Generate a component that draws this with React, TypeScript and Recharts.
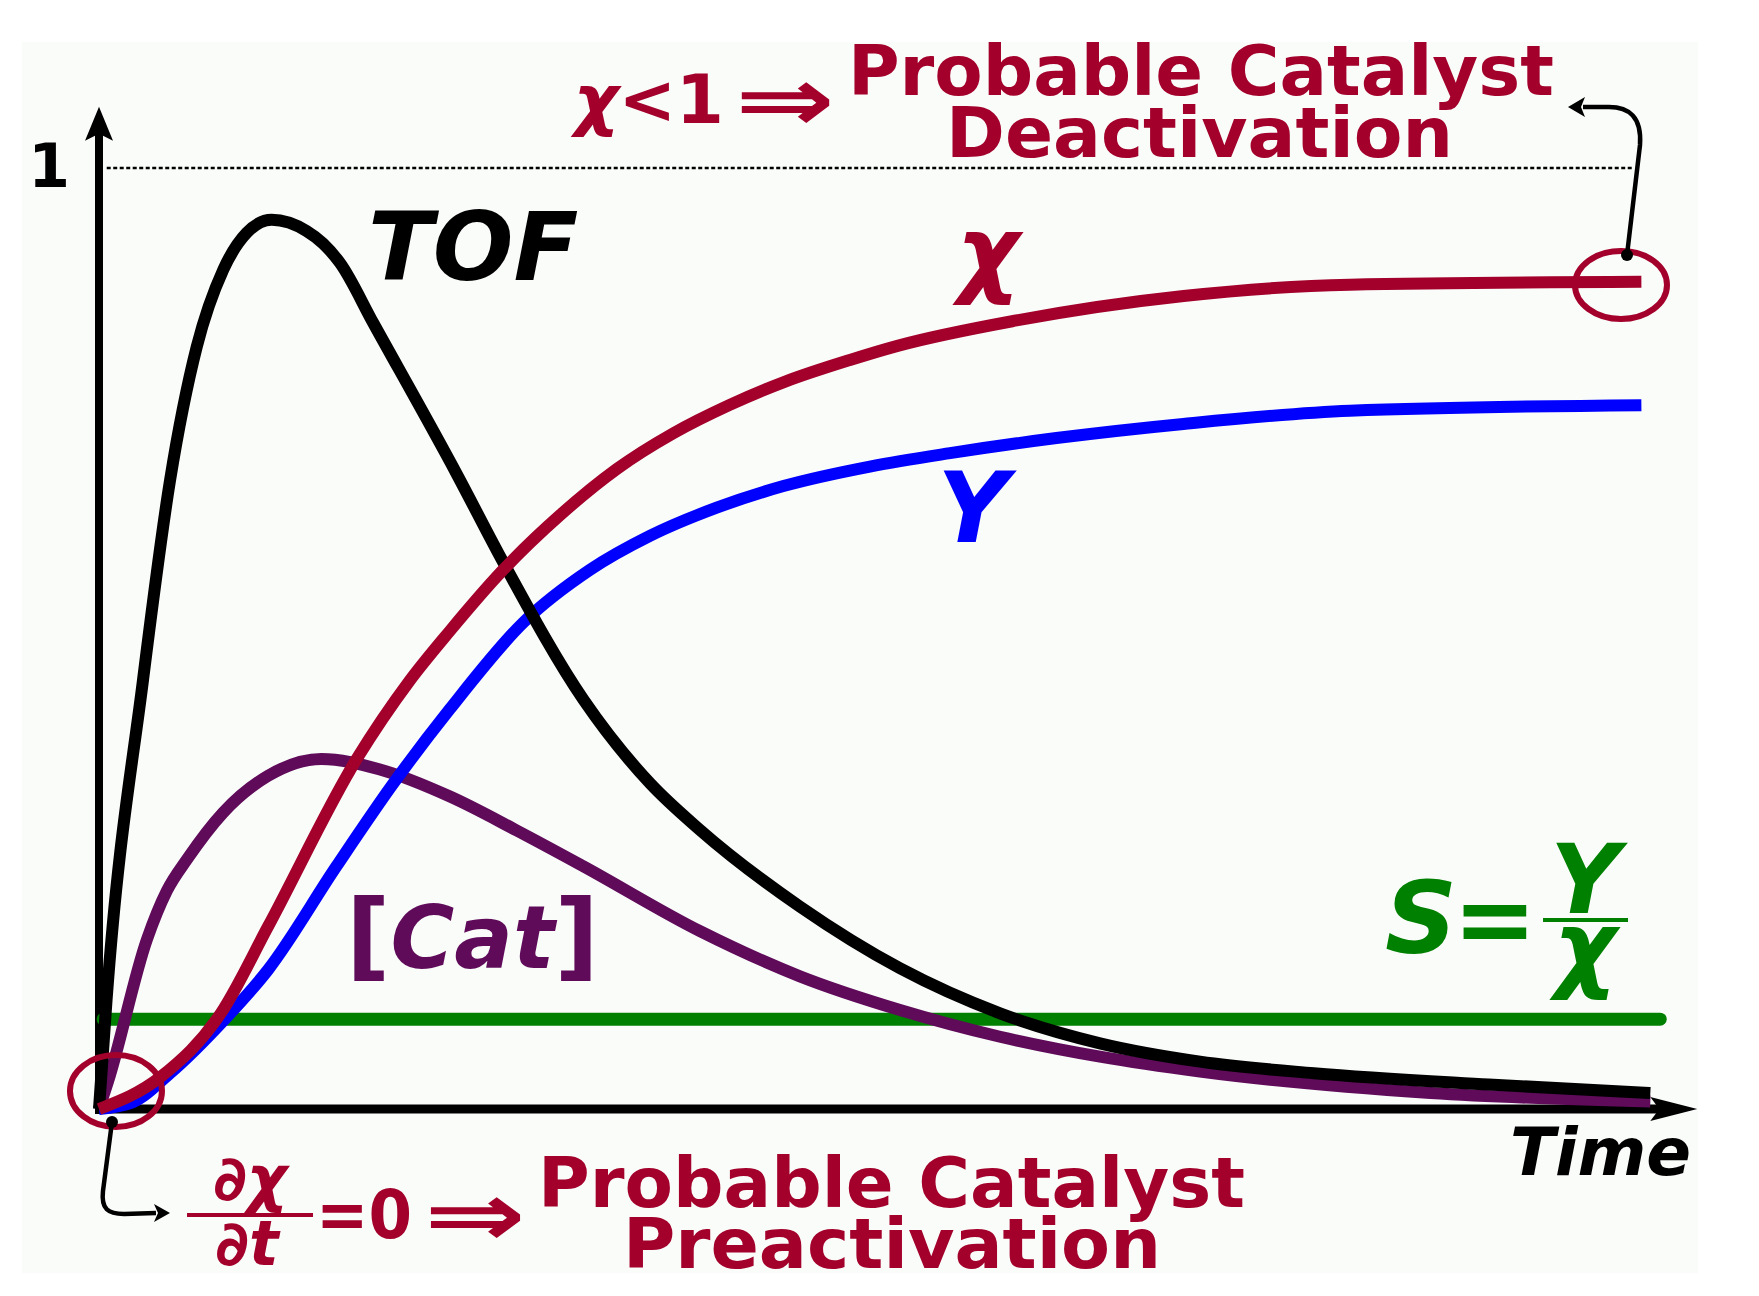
import React from "react";
import { LineChart, Line, XAxis, YAxis, ReferenceLine, ReferenceDot } from "recharts";

// time is scaled 0..100 along the axis, values 0..1 (the dotted "1" line)
const tofTime = [0, 0.49, 2.85, 4.6, 6.33, 8.05, 9.56, 11.18, 13.45, 14.5, 15.61, 17.77, 23.16, 26.21, 31.37, 35.69, 38.92, 45.39, 51.87, 58.35, 64.82, 71.3, 78.67, 90, 100.46];
const tofValue = [0, 0.116, 0.456, 0.668, 0.81, 0.892, 0.931, 0.945, 0.933, 0.92, 0.899, 0.835, 0.675, 0.58, 0.435, 0.346, 0.2965, 0.215, 0.1495, 0.1017, 0.0698, 0.0503, 0.038, 0.026, 0.017];

const chiTime = [0, 3.98, 7.9, 10.95, 16.69, 20.11, 22.72, 26.06, 29.92, 33.52, 37.18, 40.81, 44.44, 48.63, 51.71, 59.41, 70.24, 80.99, 99.88];
const chiValue = [0, 0.034, 0.102, 0.194, 0.372, 0.455, 0.508, 0.571, 0.632, 0.68, 0.718, 0.748, 0.773, 0.796, 0.811, 0.838, 0.864, 0.876, 0.879];

const yieldTime = [0, 2.16, 4.6, 8.12, 10.95, 15.38, 19.02, 22.72, 27.48, 31.8, 35.67, 40, 44.32, 50, 55.11, 62, 70.22, 81, 99.88];
const yieldValue = [0, 0.007, 0.038, 0.095, 0.148, 0.258, 0.345, 0.425, 0.517, 0.573, 0.609, 0.639, 0.662, 0.683, 0.697, 0.713, 0.728, 0.742, 0.748];

const catTime = [0, 0.6, 3.1, 4.4, 5.73, 8.04, 10.94, 14.4, 18.14, 22.73, 27.05, 31.36, 38.92, 45.39, 51.87, 58.35, 64.82, 71.3, 86.22, 100.46];
const catValue = [0, 0.03, 0.18, 0.232, 0.266, 0.315, 0.354, 0.372, 0.361, 0.332, 0.296, 0.258, 0.189, 0.141, 0.1052, 0.0768, 0.0556, 0.0397, 0.017, 0.008];

const selTime = [0.27, 101.1];
const selValue = [0.0955, 0.0955];

const toRows = (ts: number[], vs: number[]) => ts.map((t, i) => ({ t, v: vs[i] }));
const tofData = toRows(tofTime, tofValue);
const chiData = toRows(chiTime, chiValue);
const yieldData = toRows(yieldTime, yieldValue);
const catData = toRows(catTime, catValue);
const selData = toRows(selTime, selValue);

const RED = "#a3002b";
const BLUE = "#0000ff";
const PURPLE = "#5f0b5a";
const GREEN = "#008000";
const FONT = "'DejaVu Sans', Verdana, sans-serif";

// place any svg drawing at a data position
function note(key: string, t: number, v: number, draw: (x: number, y: number) => React.ReactElement) {
  return (
    <ReferenceDot
      key={key}
      x={t}
      y={v}
      r={0}
      ifOverflow="visible"
      shape={(p: any) => draw(p.cx, p.cy)}
    />
  );
}

const yArrow = (p: any) => (
  <g>
    <line x1={p.x1} y1={p.y1 + 5} x2={p.x2} y2={p.y2 + 22} stroke="#000" strokeWidth={8} />
    <path d={`M${p.x2},${p.y2} L${p.x2 - 14},${p.y2 + 34} L${p.x2},${p.y2 + 27} L${p.x2 + 14},${p.y2 + 34} Z`} fill="#000" />
  </g>
);

const xArrow = (p: any) => (
  <g>
    <line x1={p.x1} y1={p.y1} x2={p.x2 - 30} y2={p.y2} stroke="#000" strokeWidth={9} />
    <path d={`M${p.x2},${p.y2} L${p.x2 - 47},${p.y2 - 12} L${p.x2 - 38},${p.y2} L${p.x2 - 47},${p.y2 + 12} Z`} fill="#000" />
  </g>
);

const bold = { fontFamily: FONT, fontWeight: 700 } as const;

export default function App() {
  return (
    <div style={{ position: "absolute", left: 0, top: 0, width: 1759, height: 1296, background: "#fff" }}>
      <div style={{ position: "absolute", left: 22, top: 42, width: 1676, height: 1231, background: "#fafcfa" }} />
      <div style={{ position: "absolute", left: 0, top: 0 }}>
        <LineChart width={1759} height={1296} margin={{ top: 168, right: 54, bottom: 187, left: 99 }}>
          <XAxis type="number" dataKey="t" domain={[0, 104]} hide />
          <YAxis type="number" domain={[0, 1]} hide />

          <ReferenceLine
            segment={[{ x: 0.5, y: 1 }, { x: 99.4, y: 1 }]}
            ifOverflow="visible"
            stroke="#000"
            strokeWidth={2.5}
            strokeDasharray="4 2.5"
          />
          <ReferenceLine segment={[{ x: 0, y: 0 }, { x: 0, y: 1.065 }]} ifOverflow="visible" shape={yArrow} />
          <ReferenceLine segment={[{ x: -0.2, y: 0 }, { x: 103.5, y: 0 }]} ifOverflow="visible" shape={xArrow} />

          <Line data={selData} dataKey="v" type="linear" stroke={GREEN} strokeWidth={13} strokeLinecap="round" dot={false} activeDot={false} isAnimationActive={false} />
          <Line data={catData} dataKey="v" type="monotone" stroke={PURPLE} strokeWidth={12} dot={false} activeDot={false} isAnimationActive={false} />
          <Line data={yieldData} dataKey="v" type="monotone" stroke={BLUE} strokeWidth={12} dot={false} activeDot={false} isAnimationActive={false} />
          <Line data={tofData} dataKey="v" type="monotone" stroke="#000" strokeWidth={12} dot={false} activeDot={false} isAnimationActive={false} />
          <Line data={chiData} dataKey="v" type="monotone" stroke={RED} strokeWidth={12} dot={false} activeDot={false} isAnimationActive={false} />

          {note("one", -1.878, 0.98, (x, y) => (
            <text x={x} y={y} textAnchor="end" fontSize={60} fill="#000" {...bold}>1</text>
          ))}

          {note("top-formula", 30.76, 1.0478, (x, y) => (
            <text x={x} y={y} fontSize={68} fill={RED} textLength={150} lengthAdjust="spacingAndGlyphs" {...bold}>
              <tspan fontStyle="italic">χ</tspan>{"<1"}
            </text>
          ))}
          {note("top-arrow", 41.19, 1.0393, (x, y) => (
            <text x={x} y={y} fontSize={90} fill={RED} textLength={100} lengthAdjust="spacingAndGlyphs" {...bold}>⇒</text>
          ))}
          {note("top-line1", 48.5, 1.0776, (x, y) => (
            <text x={x} y={y} fontSize={70} fill={RED} textLength={706} lengthAdjust="spacingAndGlyphs" {...bold}>Probable Catalyst</text>
          ))}
          {note("top-line2", 54.85, 1.0117, (x, y) => (
            <text x={x} y={y} fontSize={70} fill={RED} textLength={507} lengthAdjust="spacingAndGlyphs" {...bold}>Deactivation</text>
          ))}

          {note("tof", 17.42, 0.881, (x, y) => (
            <text x={x} y={y} fontSize={95} fontStyle="italic" fill="#000" {...bold}>TOF</text>
          ))}
          {note("chi", 57.57, 0.876, (x, y) => (
            <text x={x} y={y} textAnchor="middle" fontSize={96} fontStyle="italic" fill={RED} {...bold}>χ</text>
          ))}
          {note("yield", 56.6, 0.6026, (x, y) => (
            <text x={x} y={y} textAnchor="middle" fontSize={98} fontStyle="italic" fill={BLUE} {...bold}>Y</text>
          ))}
          {note("cat", 16.0, 0.1498, (x, y) => (
            <text x={x} y={y} fill={PURPLE} {...bold}>
              <tspan fontSize={97}>[</tspan>
              <tspan fontSize={87} fontStyle="italic">Cat</tspan>
              <tspan fontSize={97}>]</tspan>
            </text>
          ))}

          {note("sel", 83.28, 0.1658, (x, y) => (
            <g fill={GREEN} {...bold}>
              <text x={x} y={y} fontSize={100} fontStyle="italic">S</text>
              <text x={x + 68} y={y} fontSize={100}>=</text>
              <text x={x + 200} y={y - 40} textAnchor="middle" fontSize={96} fontStyle="italic">Y</text>
              <line x1={x + 158} x2={x + 243} y1={y - 33} y2={y - 33} stroke={GREEN} strokeWidth={4} />
              <text x={x + 200} y={y + 27} textAnchor="middle" fontSize={96} fontStyle="italic">χ</text>
            </g>
          ))}

          {note("time", 91.37, -0.0701, (x, y) => (
            <text x={x} y={y} fontSize={66} fontStyle="italic" fill="#000" {...bold}>Time</text>
          ))}

          {note("end-circle", 98.56, 0.8757, (x, y) => (
            <g>
              <ellipse cx={x} cy={y} rx={46} ry={34} fill="none" stroke={RED} strokeWidth={6} />
              <path d={`M${x + 6},${y - 30} L${x + 19},${y - 140} C${x + 21},${y - 168} ${x + 8},${y - 178} ${x - 12},${y - 178} L${x - 38},${y - 178}`} fill="none" stroke="#000" strokeWidth={4.5} />
              <path d={`M${x - 53},${y - 178} L${x - 36},${y - 188} L${x - 40},${y - 178} L${x - 36},${y - 168} Z`} fill="#000" />
              <circle cx={x + 6} cy={y - 30} r={6} fill="#000" />
            </g>
          ))}

          {note("start-circle", 1.1, 0.0191, (x, y) => (
            <g>
              <ellipse cx={x} cy={y} rx={46} ry={36} fill="none" stroke={RED} strokeWidth={6} />
              <path d={`M${x - 4},${y + 31} L${x - 13},${y + 100} C${x - 15},${y + 118} ${x - 8},${y + 123} ${x + 8},${y + 123} L${x + 40},${y + 122}`} fill="none" stroke="#000" strokeWidth={4.5} />
              <path d={`M${x + 54},${y + 122} L${x + 38},${y + 113} L${x + 42},${y + 122} L${x + 38},${y + 131} Z`} fill="#000" />
              <circle cx={x - 4} cy={y + 31} r={6} fill="#000" />
            </g>
          ))}

          {note("derivative", 9.78, -0.1126, (x, y) => (
            <g fill={RED} {...bold}>
              <text x={x} y={y - 15} textAnchor="middle" fontSize={62} fontStyle="italic">∂χ</text>
              <line x1={x - 63} x2={x + 63} y1={y} y2={y} stroke={RED} strokeWidth={4} />
              <text x={x - 3} y={y + 50} textAnchor="middle" fontSize={62} fontStyle="italic">∂t</text>
            </g>
          ))}
          {note("bottom-formula", 14.05, -0.1371, (x, y) => (
            <text x={x} y={y} fontSize={68} fill={RED} textLength={96} lengthAdjust="spacingAndGlyphs" {...bold}>=0</text>
          ))}
          {note("bottom-arrow", 21.05, -0.1456, (x, y) => (
            <text x={x} y={y} fontSize={90} fill={RED} textLength={102} lengthAdjust="spacingAndGlyphs" {...bold}>⇒</text>
          ))}
          {note("bottom-line1", 28.43, -0.1041, (x, y) => (
            <text x={x} y={y} fontSize={70} fill={RED} textLength={707} lengthAdjust="spacingAndGlyphs" {...bold}>Probable Catalyst</text>
          ))}
          {note("bottom-line2", 33.93, -0.169, (x, y) => (
            <text x={x} y={y} fontSize={70} fill={RED} textLength={538} lengthAdjust="spacingAndGlyphs" {...bold}>Preactivation</text>
          ))}
        </LineChart>
      </div>
    </div>
  );
}
